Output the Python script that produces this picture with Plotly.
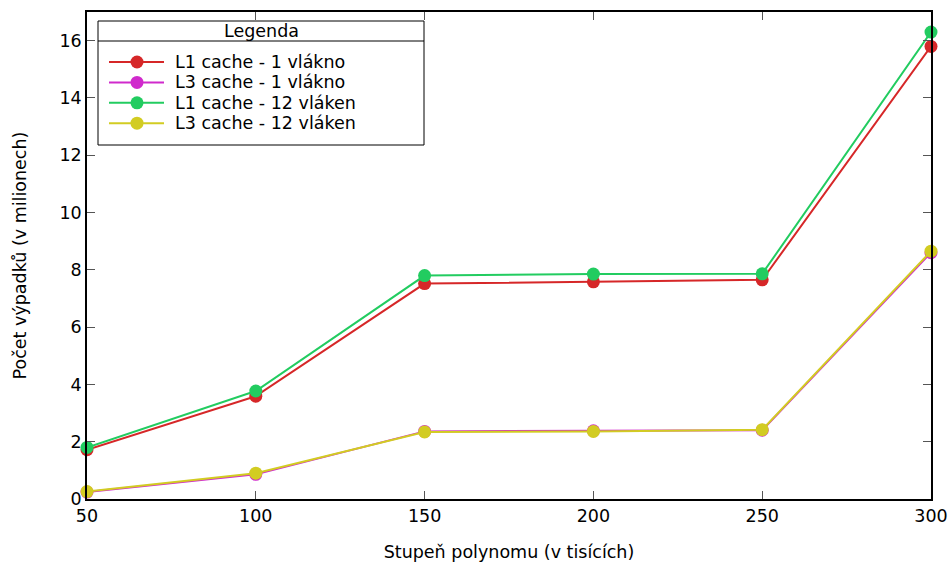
import plotly.graph_objects as go

stupen = [50, 100, 150, 200, 250, 300]
l1_1 = [1.72, 3.59, 7.52, 7.58, 7.65, 15.80]
l3_1 = [0.24, 0.86, 2.36, 2.38, 2.40, 8.60]
l1_12 = [1.80, 3.77, 7.80, 7.85, 7.86, 16.30]
l3_12 = [0.26, 0.90, 2.34, 2.36, 2.42, 8.65]
names = ["L1 cache - 1 vlákno", "L3 cache - 1 vlákno", "L1 cache - 12 vláken", "L3 cache - 12 vláken"]
colors = ["#d62728", "#d02acc", "#22cc60", "#d2cc22"]
xticks = [50, 100, 150, 200, 250, 300]
yticks = [0, 2, 4, 6, 8, 10, 12, 14, 16]

FONT = "DejaVu Sans"
FS = 17.5
W, H = 952, 562
# plot area in page coordinates
L, R, T, B = 87, 931, 12, 499

fig = go.Figure()
for ys, nm, c in zip([l1_1, l3_1, l1_12, l3_12], names, colors):
    fig.add_trace(go.Scatter(x=stupen, y=ys, name=nm, mode="lines+markers",
                             line=dict(color=c, width=2),
                             marker=dict(color=c, size=13),
                             cliponaxis=False, showlegend=False, hoverinfo="skip"))

def px(x):
    return (x - L) / (R - L)

def py(y):
    return (B - y) / (B - T)

axis_common = dict(showline=True, linecolor="black", linewidth=1.5, mirror="ticks",
                   ticks="inside", ticklen=8, tickcolor="#555", tickwidth=1,
                   showgrid=False, zeroline=False, ticklabeloverflow="allow",
                   automargin=False,
                   tickfont=dict(family=FONT, size=FS, color="black"))

shapes = [
    dict(type="rect", xref="paper", yref="paper", x0=px(98), x1=px(424), y0=py(145), y1=py(21),
         line=dict(color="black", width=1), fillcolor="white", layer="below"),
    dict(type="line", xref="paper", yref="paper", x0=px(98), x1=px(424), y0=py(41), y1=py(41),
         line=dict(color="black", width=1)),
]
annotations = [
    dict(text="Legenda", xref="paper", yref="paper", x=px(261), y=py(31),
         xanchor="center", yanchor="middle", showarrow=False,
         font=dict(family=FONT, size=FS, color="black")),
]
for i, (nm, c) in enumerate(zip(names, colors)):
    yy = 62 + 20.4 * i
    shapes.append(dict(type="line", xref="paper", yref="paper", x0=px(109), x1=px(164),
                       y0=py(yy), y1=py(yy), line=dict(color=c, width=2)))
    shapes.append(dict(type="circle", xref="paper", yref="paper", x0=px(137 - 6.5), x1=px(137 + 6.5),
                       y0=py(yy + 6.5), y1=py(yy - 6.5), line=dict(color=c, width=0), fillcolor=c))
    annotations.append(dict(text=nm, xref="paper", yref="paper", x=px(173), y=py(yy),
                            xanchor="left", yanchor="middle", showarrow=False,
                            font=dict(family=FONT, size=FS, color="black")))

fig.update_layout(
    width=W, height=H, autosize=False,
    margin=dict(l=L, r=W - R, t=T, b=H - B, autoexpand=False),
    paper_bgcolor="white", plot_bgcolor="white",
    font=dict(family=FONT, size=FS, color="black"),
    xaxis=dict(range=[50, 300], tickvals=xticks, ticktext=[str(v) for v in xticks],
               title=dict(text="Stupeň polynomu (v tisících)", font=dict(family=FONT, size=FS), standoff=21),
               **axis_common),
    yaxis=dict(range=[0, 17], tickvals=yticks, ticktext=[str(v) for v in yticks],
               title=dict(text="Počet výpadků (v milionech)", font=dict(family=FONT, size=FS), standoff=28),
               **axis_common),
    showlegend=False,
    hovermode=False,
    shapes=shapes,
    annotations=annotations,
)

fig.write_html("out.html",
               config={"displayModeBar": False, "responsive": False},
               post_script="document.body.style.margin='0';")
